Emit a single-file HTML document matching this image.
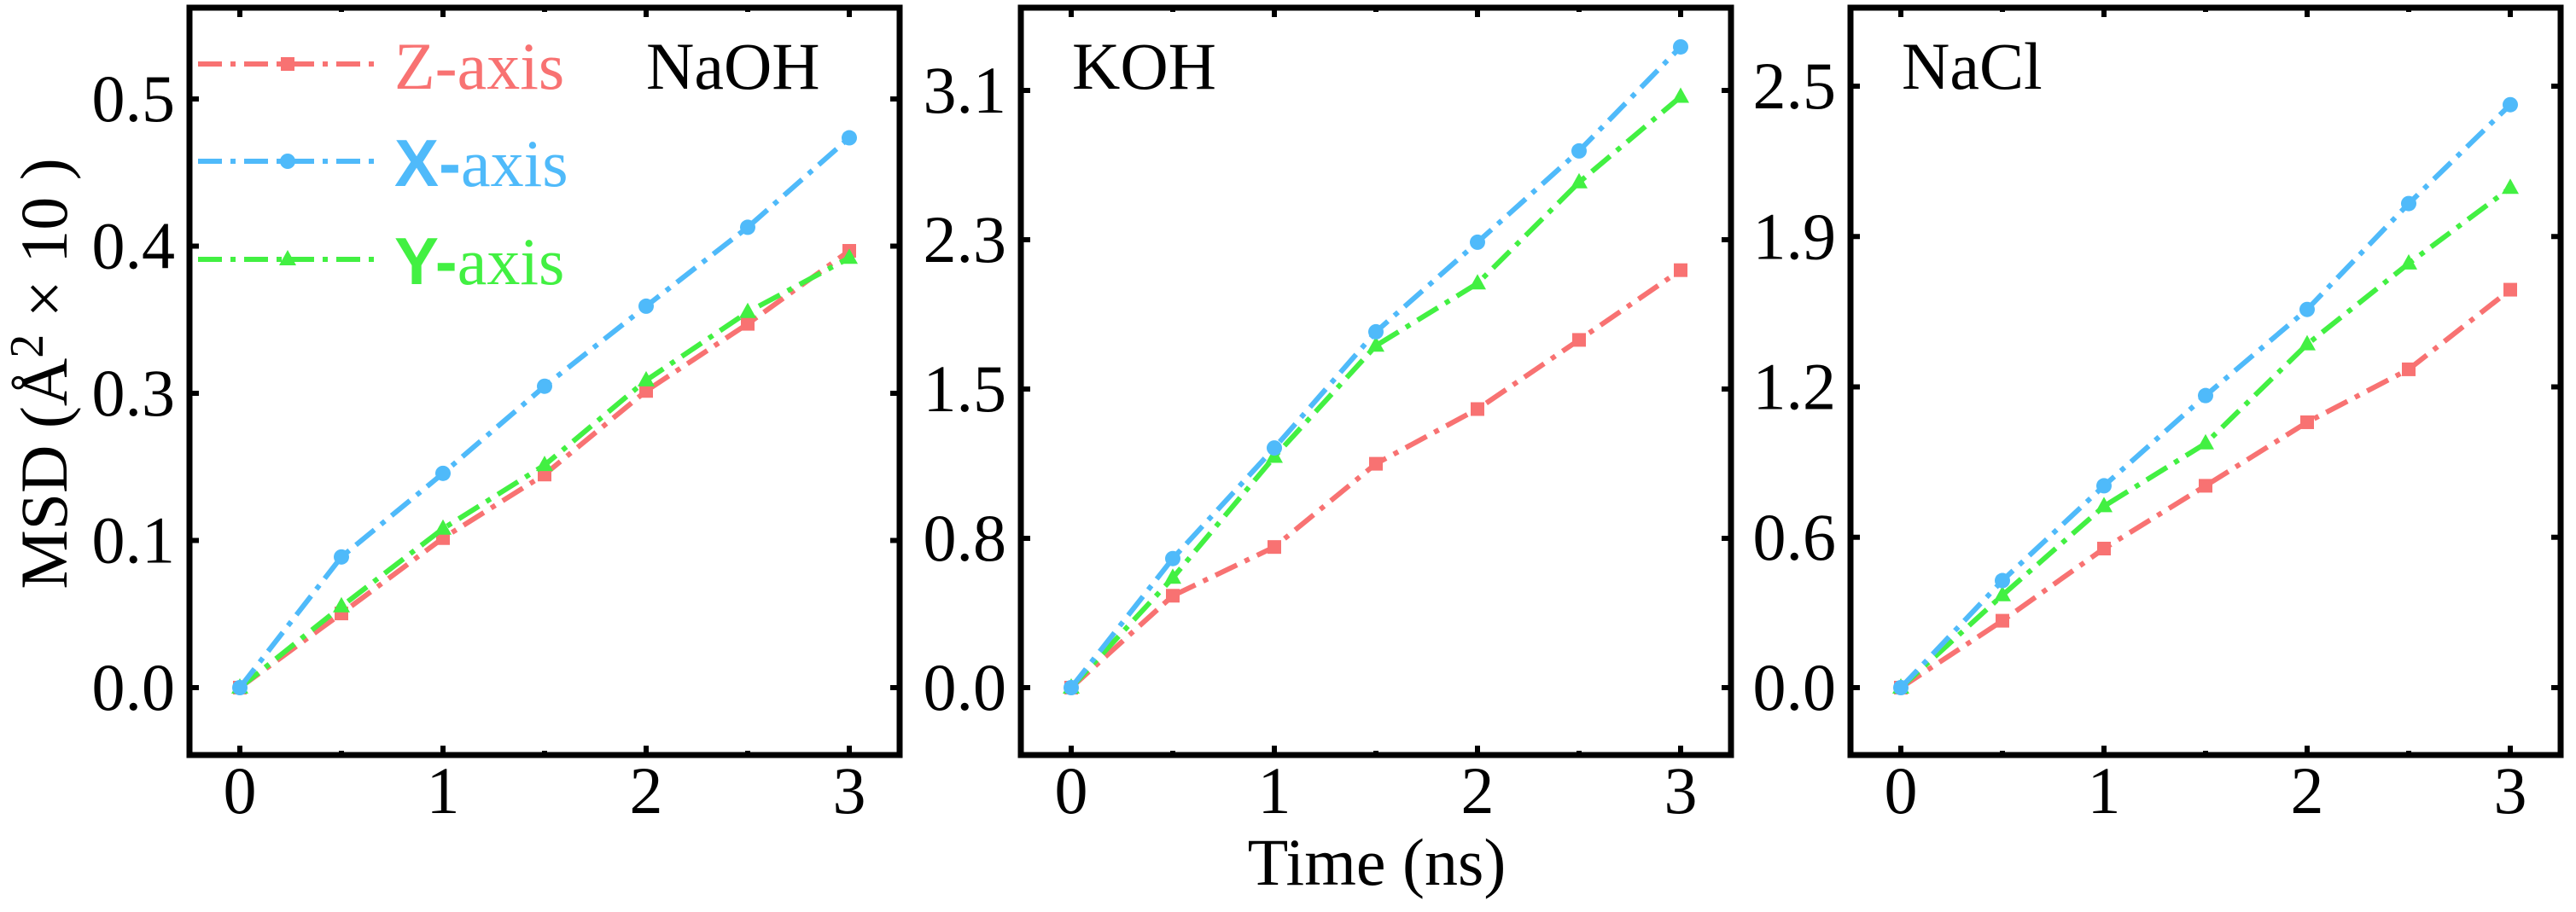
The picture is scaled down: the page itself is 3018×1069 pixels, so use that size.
<!DOCTYPE html>
<html><head><meta charset="utf-8">
<style>
html,body{margin:0;padding:0;background:#fff;}
svg{display:block;}
text{font-family:"Liberation Serif",serif;fill:#000;}
</style></head>
<body>
<svg id="chart" width="3018" height="1069" viewBox="0 0 3018 1069" xmlns="http://www.w3.org/2000/svg">
<g id="root"></g>
<text font-family="Liberation Serif, serif" transform="translate(78,438) rotate(-90)" text-anchor="middle" font-size="78">MSD (Å<tspan dy="-28" font-size="56">2</tspan><tspan dy="28"> × 10 )</tspan></text>
<text font-family="Liberation Serif, serif" x="1613" y="1037" text-anchor="middle" font-size="78">Time (ns)</text>
</svg>
<script>
const times = [0, 0.5, 1, 1.5, 2, 2.5, 3];
const xTicks = [0, 1, 2, 3];
const xMinor = [0.5, 1.5, 2.5];
const naohZ = [0, 0.063, 0.127, 0.181, 0.252, 0.309, 0.371];
const naohX = [0, 0.111, 0.182, 0.256, 0.324, 0.391, 0.467];
const naohY = [0, 0.069, 0.135, 0.189, 0.261, 0.319, 0.365];
const kohZ = [0, 0.477, 0.730, 1.162, 1.446, 1.805, 2.167];
const kohX = [0, 0.670, 1.244, 1.847, 2.312, 2.786, 3.326];
const kohY = [0, 0.570, 1.198, 1.775, 2.098, 2.623, 3.067];
const naclZ = [0, 0.278, 0.578, 0.839, 1.103, 1.323, 1.654];
const naclX = [0, 0.445, 0.839, 1.214, 1.572, 2.012, 2.423];
const naclY = [0, 0.384, 0.754, 1.015, 1.427, 1.763, 2.077];
const naohTicks = [0, 0.125, 0.25, 0.375, 0.5];
const naohTickLabels = ["0.0", "0.1", "0.3", "0.4", "0.5"];
const kohTicks = [0, 0.775, 1.55, 2.325, 3.1];
const kohTickLabels = ["0.0", "0.8", "1.5", "2.3", "3.1"];
const naclTicks = [0, 0.625, 1.25, 1.875, 2.5];
const naclTickLabels = ["0.0", "0.6", "1.2", "1.9", "2.5"];

const NS = "http://www.w3.org/2000/svg";
const SERIF = "Liberation Serif, serif";
const root = document.getElementById('root');
const COL = {Z:'#f87272', X:'#4fbafa', Y:'#42f042'};
function mk(tag, attrs, parent){
  const e = document.createElementNS(NS, tag);
  for (const k in attrs) e.setAttribute(k, attrs[k]);
  (parent||root).appendChild(e);
  return e;
}
function marker(kind, cx, cy, g){
  let m;
  if (kind==='Z') m = mk('rect',{x:cx-8,y:cy-8,width:16,height:16,fill:COL.Z},g);
  else if (kind==='X') m = mk('circle',{cx:cx,cy:cy,r:9,fill:COL.X},g);
  else m = mk('polygon',{points:(cx)+','+(cy-11)+' '+(cx-10)+','+(cy+7)+' '+(cx+10)+','+(cy+7),fill:COL.Y},g);
  
  
}
const panels = [
  {name:'naoh', label:'NaOH', lx:757, left:222, right:1054, yTop:116, ticks:naohTicks, labels:naohTickLabels, series:{Z:naohZ, X:naohX, Y:naohY}},
  {name:'koh', label:'KOH', lx:1256, left:1196, right:2028, yTop:106, ticks:kohTicks, labels:kohTickLabels, series:{Z:kohZ, X:kohX, Y:kohY}},
  {name:'nacl', label:'NaCl', lx:2228, left:2168, right:3000, yTop:101, ticks:naclTicks, labels:naclTickLabels, series:{Z:naclZ, X:naclX, Y:naclY}}
];
const TOP = 9, BOT = 885, Y0 = 806;
panels.forEach(p => {
  const g = mk('g', {});
  
  
  const x0 = p.left + 59, x3 = p.left + 773;
  const maxT = p.ticks[p.ticks.length-1];
  const xs = v => x0 + (x3 - x0) * v / 3;
  const ys = v => Y0 - (Y0 - p.yTop) * v / maxT;
  ['Z','Y','X'].forEach(k => {
    const vals = p.series[k];
    const pts = times.map((t,i) => xs(t)+','+ys(vals[i])).join(' ');
    const l = mk('polyline',{points:pts,fill:'none',stroke:COL[k],'stroke-width':6,'stroke-dasharray':'28 10 6 10','stroke-linejoin':'round'},g);
    
    
    times.forEach((t,i) => marker(k, xs(t), ys(vals[i]), g));
  });
  const f = mk('rect',{x:p.left,y:TOP,width:p.right-p.left,height:BOT-TOP,fill:'none',stroke:'#000','stroke-width':7},g);
  
  
  p.ticks.forEach((v,i) => {
    const y = ys(v);
    mk('line',{x1:p.left,y1:y,x2:p.left+11,y2:y,stroke:'#000','stroke-width':6},g);
    mk('line',{x1:p.right,y1:y,x2:p.right-11,y2:y,stroke:'#000','stroke-width':6},g);
    const t = mk('text',{x:p.left-17,y:y+26,'text-anchor':'end','font-size':78,'font-family':SERIF},g);
    t.textContent = p.labels[i];
    
    
  });
  xTicks.forEach(v => {
    const x = xs(v);
    mk('line',{x1:x,y1:BOT,x2:x,y2:BOT-11,stroke:'#000','stroke-width':6},g);
    mk('line',{x1:x,y1:TOP,x2:x,y2:TOP+11,stroke:'#000','stroke-width':6},g);
    const t = mk('text',{x:x,y:953,'text-anchor':'middle','font-size':78,'font-family':SERIF},g);
    t.textContent = String(v);
    
    
  });
  xMinor.forEach(v => {
    const x = xs(v);
    mk('line',{x1:x,y1:BOT,x2:x,y2:BOT-5,stroke:'#000','stroke-width':6},g);
    mk('line',{x1:x,y1:TOP,x2:x,y2:TOP+5,stroke:'#000','stroke-width':6},g);
  });
  const lab = mk('text',{x:p.lx,y:104,'font-size':78,'font-family':SERIF},g);
  lab.textContent = p.label;
  
  
});
const legend = mk('g', {});


[['Z',75,'Z-'],['X',189,'X-'],['Y',304,'Y-']].forEach(([k,y,pre]) => {
  const e = mk('g',{},legend);
  
  
  mk('line',{x1:232,y1:y,x2:442,y2:y,stroke:COL[k],'stroke-width':6,'stroke-dasharray':'28 10 6 10'},e);
  marker(k, 337, y, e);
  const t = mk('text',{x:462,y:y+29,'font-size':78,fill:COL[k],'font-family':SERIF},e);
  t.setAttribute('style','fill:'+COL[k]);
  if (k==='Z') { t.textContent = 'Z-axis'; }
  else {
    const b = mk('tspan',{'font-family':'Liberation Sans, sans-serif','font-weight':'bold'},t);
    b.setAttribute('style','font-family:"Liberation Sans",sans-serif;font-weight:bold;fill:'+COL[k]);
    b.textContent = pre;
    const r = mk('tspan',{'font-family':SERIF},t);
    r.textContent = 'axis';
  }
});
</script>
</body></html>
